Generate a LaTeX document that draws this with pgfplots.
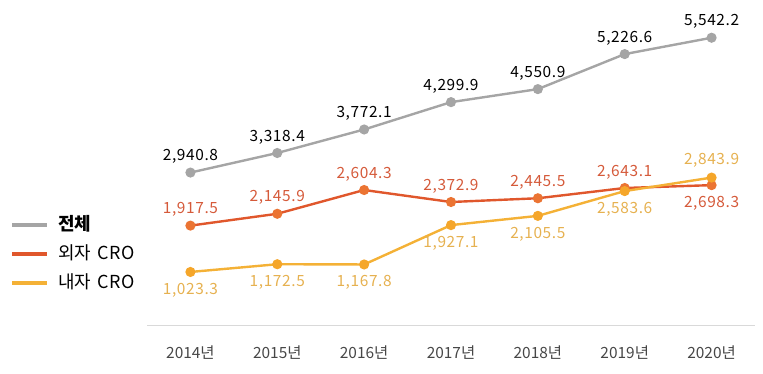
\documentclass[border=0pt]{standalone}
\usepackage{fontspec}
\setmainfont{Noto Sans CJK KR}
\newfontfamily\numfont[LetterSpace=4]{Noto Sans CJK KR}
\newfontfamily\legfont[LetterSpace=6]{Noto Sans CJK KR}
\usepackage{pgfplots}
\pgfplotsset{compat=1.18}
\definecolor{cgray}{HTML}{A5A5A5}
\definecolor{cred}{HTML}{E0572C}
\definecolor{credm}{HTML}{EB7433}
\definecolor{credl}{HTML}{D55A3A}
\definecolor{cyel}{HTML}{F4B136}
\definecolor{cyelm}{HTML}{F5A62A}
\definecolor{cyell}{HTML}{E6B150}
\pgfplotsset{
  lab/.style 2 args={forget plot, draw=none, mark=none, nodes near coords, point meta=y,
    every node near coord/.append style={text=#1, anchor=center, yshift=#2, inner sep=0pt,
      font=\numfont\fontsize{15.5}{17}\selectfont}},
}
\begin{document}
\begin{tikzpicture}
\useasboundingbox (0,0) rectangle (763bp,374bp);
\begin{axis}[
  at={(147bp,49bp)}, anchor=south west,
  scale only axis, width=608bp, height=311bp,
  xmin=-0.5, xmax=6.5, ymin=0, ymax=6000,
  axis y line=none,
  axis x line*=bottom,
  x axis line style={draw=black!15, line width=0.8pt, -},
  xtick={0,...,6},
  xticklabels={2014년,2015년,2016년,2017년,2018년,2019년,2020년},
  major tick length=0pt,
  xticklabel style={font=\fontsize{15.5}{17}\selectfont, text=black!72, anchor=center, yshift=-28bp, inner sep=0pt},
  clip=false,
  /pgf/number format/.cd, fixed, fixed zerofill, precision=1, 1000 sep={,}, assume math mode=true,
  /pgfplots/.cd,
  legend cell align=left,
  legend style={draw=none, fill=none, at={(-0.2253,0.227)}, anchor=west,
    inner sep=0pt, outer sep=0pt,
    font=\fontsize{18}{20}\selectfont, row sep=11bp,
    nodes={inner sep=0pt, text height=14bp, text depth=4bp},
    /tikz/every odd column/.append style={column sep=9bp}},
  legend image code/.code={\draw[#1, line width=4bp] (0bp,0bp) -- (35bp,0bp);},
]
% 전체
\addplot[cgray, line width=2.4bp, mark=*, mark size=3.8bp, mark options={fill=cgray, draw=cgray}]
  coordinates {(0,2940.8) (1,3318.4) (2,3772.1) (3,4299.9) (4,4550.9) (5,5226.6) (6,5542.2)};
\addlegendentry{\textbf{전체}}
% 외자 CRO
\addplot[cred, line width=2.4bp, mark=*, mark size=3.8bp, mark options={fill=credm, draw=credm}]
  coordinates {(0,1917.5) (1,2145.9) (2,2604.3) (3,2372.9) (4,2445.5) (5,2643.1) (6,2698.3)};
\addlegendentry{외자\hspace{6bp}{\legfont CRO}}
% 내자 CRO
\addplot[cyel, line width=2.4bp, mark=*, mark size=3.8bp, mark options={fill=cyelm, draw=cyelm}]
  coordinates {(0,1023.3) (1,1172.5) (2,1167.8) (3,1927.1) (4,2105.5) (5,2583.6) (6,2843.9)};
\addlegendentry{내자\hspace{6bp}{\legfont CRO}}
% labels
\addplot[lab={black}{16bp}]
  coordinates {(0,2940.8) (1,3318.4) (2,3772.1) (3,4299.9) (4,4550.9) (5,5226.6) (6,5542.2)};
\addplot[lab={credl}{16bp}]
  coordinates {(0,1917.5) (1,2145.9) (2,2604.3) (3,2372.9) (4,2445.5) (5,2643.1)};
\addplot[lab={credl}{-18bp}]
  coordinates {(6,2698.3)};
\addplot[lab={cyell}{-18bp}]
  coordinates {(0,1023.3) (1,1172.5) (2,1167.8) (3,1927.1) (4,2105.5) (5,2583.6)};
\addplot[lab={cyell}{17bp}]
  coordinates {(6,2843.9)};
\end{axis}
\end{tikzpicture}
\end{document}
